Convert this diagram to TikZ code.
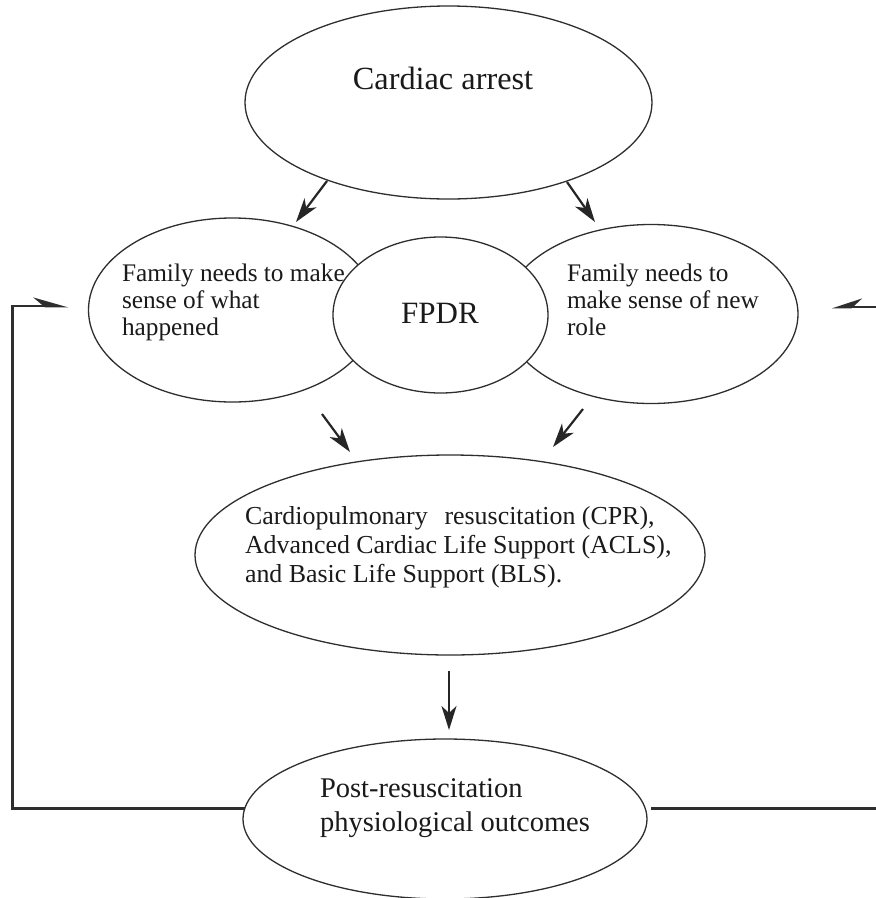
\documentclass[tikz,border=0pt]{standalone}
\usepackage{fontspec}
\setmainfont{Liberation Serif}
\usetikzlibrary{shapes.geometric,arrows.meta}
\definecolor{lineclr}{HTML}{2E2E2E}
\definecolor{arrclr}{HTML}{262626}
\definecolor{txtclr}{HTML}{1A1A1A}
\begin{document}
\begin{tikzpicture}[x=1pt,y=-1pt,
  oval/.style={ellipse,draw=lineclr,line width=1.3pt,fill=white,inner sep=0pt,outer sep=0pt},
  txt/.style={inner sep=0pt,outer sep=0pt,anchor=base west,text=txtclr},
  ctxt/.style={inner sep=0pt,outer sep=0pt,anchor=base,text=txtclr},
  flow/.style={draw=arrclr,line width=2.2pt,-{Stealth[length=24pt,width=15pt,inset=7pt]}},
  fback/.style={draw=lineclr,line width=2.6pt}]
\useasboundingbox (0,0) rectangle (876,898);

% ellipses
\node[oval,minimum width=407pt,minimum height=193pt] (arrest) at (448.5,102.5) {};
\node[oval,minimum width=288pt,minimum height=184pt] (sensea) at (232.5,310) {};
\node[oval,minimum width=294pt,minimum height=179pt] (senseb) at (651,314) {};
\node[oval,minimum width=215pt,minimum height=156pt] (fpdr) at (440.5,315) {};
\node[oval,minimum width=510pt,minimum height=200pt] (cpr) at (450,555) {};
\node[oval,minimum width=404pt,minimum height=160pt] (post) at (445,819) {};

% texts
\node[ctxt,font=\fontsize{32.3}{36}\selectfont] (tarrest) at (443,89) {Cardiac arrest};
\node[txt,font=\fontsize{25.3}{27}\selectfont] (ta1) at (122,281) {Family needs to make};
\node[txt,font=\fontsize{25.3}{27}\selectfont] (ta2) at (122,308) {sense of what};
\node[txt,font=\fontsize{25.3}{27}\selectfont] (ta3) at (122,335) {happened};
\node[txt,font=\fontsize{25.3}{27}\selectfont] (tb1) at (567,281) {Family needs to};
\node[txt,font=\fontsize{25.3}{27}\selectfont] (tb2) at (567,308) {make sense of new};
\node[txt,font=\fontsize{25.3}{27}\selectfont] (tb3) at (567,335) {role};
\node[ctxt,font=\fontsize{31}{34}\selectfont] (tfpdr) at (440,323) {FPDR};
\node[txt,font=\fontsize{25.9}{29}\selectfont] (tc1) at (245,524) {Cardiopulmonary\hspace{0.4em} resuscitation (CPR),};
\node[txt,font=\fontsize{25.9}{29}\selectfont] (tc2) at (245,553) {Advanced Cardiac Life Support (ACLS),};
\node[txt,font=\fontsize{25.9}{29}\selectfont] (tc3) at (245,582) {and Basic Life Support (BLS).};
\node[txt,font=\fontsize{28.5}{33}\selectfont] (tp1) at (320,797) {Post-resuscitation};
\node[txt,font=\fontsize{28.5}{33}\selectfont] (tp2) at (320,831) {physiological outcomes};

% arrow end points
\coordinate (a1s) at (327,181);
\coordinate (a1e) at (296,222);
\coordinate (a2s) at (567,182);
\coordinate (a2e) at (595,222);
\coordinate (a3s) at (322,414);
\coordinate (a3e) at (350,452);
\coordinate (a4s) at (583,409);
\coordinate (a4e) at (553,447);
\coordinate (a5s) at (449,671);
\coordinate (a5e) at (449,730);

\draw[flow] (a1s) -- (a1e);
\draw[flow] (a2s) -- (a2e);
\draw[flow] (a3s) -- (a3e);
\draw[flow] (a4s) -- (a4e);
\draw[flow] (a5s) -- (a5e);

% feedback lines
\coordinate (lcorner) at (12.7,306);
\coordinate (ltip) at (68,306);
\coordinate (rcorner) at (879,307);
\coordinate (rtip) at (832,307);
\draw[fback,-{Stealth[harpoon,length=30pt,width=17pt,inset=10pt]}]
  (post.177) -| (lcorner) -- (ltip);
\draw[fback,shorten <=6pt,-{Stealth[harpoon,swap,length=26pt,width=17pt,inset=9pt]}]
  (post.3) -| (rcorner) -- (rtip);
\end{tikzpicture}
\end{document}
